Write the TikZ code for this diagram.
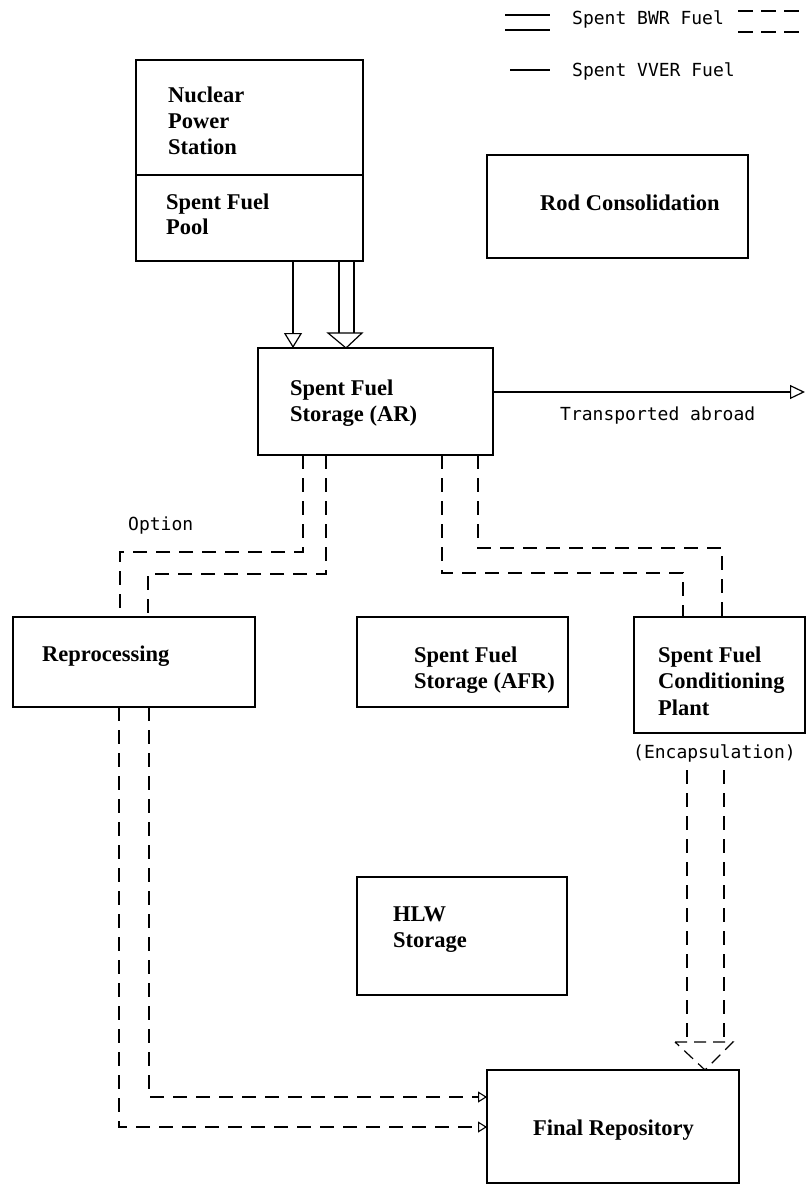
\documentclass[tikz,border=0pt]{standalone}
\usepackage{fontspec}
\usetikzlibrary{arrows.meta,calc}
\newfontfamily\boxfont{Liberation Serif}
\newfontfamily\typefont{DejaVu Sans Mono}
\begin{document}
\begin{tikzpicture}[x=1pt,y=-1pt,
  box/.style={draw,line width=1.5pt,inner sep=0pt,outer sep=0pt},
  lbl/.style={inner sep=0pt,anchor=base west,font=\boxfont\bfseries\fontsize{22.5}{26}\selectfont},
  tt/.style={inner sep=0pt,anchor=base west,font=\typefont\fontsize{18}{22}\selectfont},
  flow/.style={line width=1.2pt},
  bwrdash/.style={line width=1.2pt,dash pattern=on 14pt off 9pt},
  opentip/.style={-{Triangle[open,length=15pt,width=18pt,line width=1.2pt]}},
  smalltip/.style={-{Triangle[open,length=9pt,width=11pt,line width=1.1pt]}}]
\useasboundingbox (0,0) rectangle (808,1185);

% legend
\node[tt] (lgbwr) at (572,25) {Spent BWR Fuel};
\node[tt] (lgvver) at (572,77) {Spent VVER Fuel};
\draw[flow] (505,15) -- (550,15) (505,30) -- (550,30);
\draw[bwrdash,dash pattern=on 15pt off 8pt] (738,11) -- (804,11) (738,32) -- (804,32);
\draw[flow] (510,70) -- (550,70);

% boxes
\node[box,minimum width=227pt,minimum height=201pt] (nps) at (249.5,160.5) {};
\draw[line width=1.5pt] ($(nps.north west)+(0,115)$) -- ($(nps.north east)+(0,115)$);
\node[box,minimum width=261pt,minimum height=103pt] (rod) at (617.5,206.5) {};
\node[box,minimum width=235pt,minimum height=107pt] (ar) at (375.5,401.5) {};
\node[box,minimum width=242pt,minimum height=90pt] (rep) at (134,662) {};
\node[box,minimum width=211pt,minimum height=90pt] (afr) at (462.5,662) {};
\node[box,minimum width=171pt,minimum height=116pt] (cond) at (719.5,675) {};
\node[box,minimum width=210pt,minimum height=118pt] (hlw) at (462,936) {};
\node[box,minimum width=252pt,minimum height=113pt] (final) at (613,1126.5) {};

% box texts
\node[lbl] (t1) at (168,103) {Nuclear};
\node[lbl] (t2) at (168,129) {Power};
\node[lbl] (t3) at (168,155) {Station};
\node[lbl] (t4) at (166,209) {Spent Fuel};
\node[lbl] (t5) at (166,234) {Pool};
\node[lbl] (t6) at (540,211) {Rod Consolidation};
\node[lbl] (t7) at (290,395) {Spent Fuel};
\node[lbl] (t8) at (290,421) {Storage (AR)};
\node[lbl] (t9) at (42,661) {Reprocessing};
\node[lbl] (t10) at (414,662) {Spent Fuel};
\node[lbl] (t11) at (414,688) {Storage (AFR)};
\node[lbl] (t12) at (658,662) {Spent Fuel};
\node[lbl] (t13) at (658,688) {Conditioning};
\node[lbl] (t14) at (658,715) {Plant};
\node[lbl] (t15) at (393,921) {HLW};
\node[lbl] (t16) at (393,947) {Storage};
\node[lbl] (t17) at (533,1135) {Final Repository};

% other labels
\node[tt] (abr) at (560,420) {Transported abroad};
\node[tt] (opt) at (128,530) {Option};
\node[tt] (enc) at (633,758) {(Encapsulation)};

% VVER fuel: pool to AR storage
\draw[flow,opentip] ($(nps.south west)+(157,0)$) -- ($(ar.north west)+(35,0)$);

% BWR fuel: pool to AR storage (double line, wide head)
\draw[flow] ($(nps.south west)+(203,0)$) -- ($(ar.north west)+(81,-15)$)
            ($(nps.south west)+(218,0)$) -- ($(ar.north west)+(96,-15)$);
\draw[flow,line join=miter] ($(ar.north west)+(70,-15)$) -- ($(ar.north west)+(104,-15)$)
      -- ($(ar.north west)+(88,0)$) -- cycle;

% transported abroad
\coordinate (abroad) at (805,392);
\draw[flow,-{Triangle[open,length=15pt,width=14pt,line width=1.2pt]}]
  ($(ar.north east)+(0,44)$) -- (abroad);

% AR storage to reprocessing (option)
\draw[bwrdash] ($(ar.south west)+(45,0)$) |- ($(rep.north west)+(107,-65)$) -- ($(rep.north west)+(107,0)$);
\draw[bwrdash] ($(ar.south west)+(68,0)$) |- ($(rep.north west)+(135,-43)$) -- ($(rep.north west)+(135,0)$);

% AR storage to conditioning plant
\draw[bwrdash] ($(ar.south west)+(184,0)$) |- ($(cond.north west)+(49,-44)$) -- ($(cond.north west)+(49,0)$);
\draw[bwrdash] ($(ar.south west)+(220,0)$) |- ($(cond.north west)+(88,-69)$) -- ($(cond.north west)+(88,0)$);

% reprocessing to final repository
\draw[bwrdash,smalltip] ($(rep.south west)+(106,0)$) |- ($(final.north west)+(0,57)$);
\draw[bwrdash,smalltip] ($(rep.south west)+(136,0)$) |- ($(final.north west)+(0,27)$);

% conditioning plant to final repository (double line, wide head)
\draw[bwrdash] ($(cond.south west)+(53,37)$) -- ($(final.north west)+(200,-28)$)
               ($(cond.south west)+(90,37)$) -- ($(final.north west)+(237,-28)$);
\draw[bwrdash,dash pattern=on 12pt off 7pt] ($(final.north west)+(188,-28)$) -- ($(final.north west)+(246,-28)$)
      -- ($(final.north west)+(218,0)$) -- cycle;
\end{tikzpicture}
\end{document}
